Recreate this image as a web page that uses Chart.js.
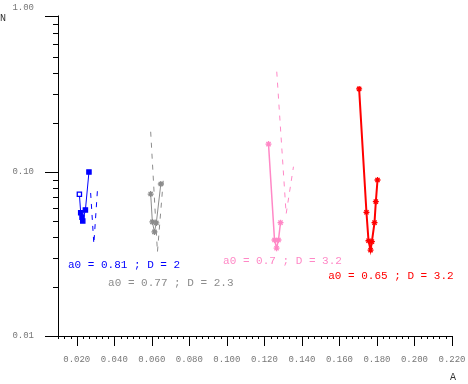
<!DOCTYPE html>
<html>
<head>
<meta charset="utf-8">
<script src="https://cdn.jsdelivr.net/npm/chart.js@4"></script>
<style>
  html, body { margin: 0; padding: 0; background: #fff; }
  #wrap { width: 468px; height: 384px; }
</style>
</head>
<body>
<div id="wrap"><canvas id="chart" width="468" height="384"></canvas></div>
<script>
const blueA = [0.0214, 0.0221, 0.0228, 0.0232, 0.0246, 0.0265];
const blueN = [0.0732, 0.0565, 0.0530, 0.0503, 0.0587, 0.100];
const blueModelA = [0.0274, 0.0291, 0.0310];
const blueModelN = [0.0745, 0.0364, 0.0769];

const greyA = [0.0594, 0.0603, 0.0614, 0.0624, 0.0648];
const greyN = [0.0734, 0.0496, 0.0431, 0.0489, 0.0845];
const greyModelA = [0.0594, 0.0630, 0.0662];
const greyModelN = [0.176, 0.0325, 0.0919];

const pinkA = [0.1222, 0.1254, 0.1265, 0.1275, 0.1286];
const pinkN = [0.148, 0.0385, 0.0343, 0.0385, 0.0491];
const pinkModelA = [0.1266, 0.1316, 0.1355];
const pinkModelN = [0.409, 0.0555, 0.1077];

const redA = [0.1705, 0.1744, 0.1755, 0.1766, 0.1773, 0.1787, 0.1794, 0.1803];
const redN = [0.321, 0.0568, 0.0381, 0.0334, 0.0376, 0.0491, 0.0659, 0.0894];

const seriesLabels = ['a0 = 0.81 ; D = 2', 'a0 = 0.77 ; D = 2.3', 'a0 = 0.7 ; D = 3.2', 'a0 = 0.65 ; D = 3.2'];

const xTicks = [0.02, 0.04, 0.06, 0.08, 0.10, 0.12, 0.14, 0.16, 0.18, 0.20, 0.22];
const yTicks = [0.01, 0.1, 1];

const BLUE = '#0000ff';
const GREY = '#8c8c8c';
const PINK = '#ff88c6';
const RED = '#ff0000';

const pts = (xs, ys) => xs.map((x, i) => ({ x: x, y: ys[i] }));

// where the series captions sit, in data units
const captionPos = [
  { x: 0.0153, y: 0.0271, color: BLUE },
  { x: 0.0367, y: 0.0211, color: GREY },
  { x: 0.0980, y: 0.0287, color: PINK },
  { x: 0.1540, y: 0.0232, color: RED },
];

const solid = (data, color, style, width, bg) => ({
  data: data,
  showLine: true,
  borderColor: color,
  borderWidth: width,
  pointStyle: style,
  pointRadius: 3,
  pointBorderWidth: 1.3,
  pointBorderColor: color,
  pointBackgroundColor: bg || color,
});

const dashed = (data, color) => ({
  data: data,
  showLine: true,
  borderColor: color,
  borderWidth: 1,
  borderDash: [5, 6],
  pointRadius: 0,
});

const axesPlugin = {
  id: 'plainAxes',
  afterDraw(chart) {
    const ctx = chart.ctx;
    const xs = chart.scales.x;
    const ys = chart.scales.y;
    const left = xs.getPixelForValue(0.01);
    const right = xs.getPixelForValue(0.22);
    const bottom = ys.getPixelForValue(0.01);
    const top = ys.getPixelForValue(0.9);

    ctx.save();
    ctx.strokeStyle = '#000';
    ctx.lineWidth = 1;
    ctx.beginPath();
    ctx.moveTo(left + 0.5, top);
    ctx.lineTo(left + 0.5, bottom + 0.5);
    ctx.lineTo(right, bottom + 0.5);
    ctx.stroke();

    // x ticks: minor every 1/300, major every 0.02
    ctx.beginPath();
    for (let k = 0; k <= 63; k++) {
      const v = 0.01 + k / 300;
      const px = Math.round(xs.getPixelForValue(v)) + 0.5;
      const len = (k % 6 === 3) ? 10 : 3;
      ctx.moveTo(px, bottom);
      ctx.lineTo(px, bottom + len);
    }
    // y ticks
    for (let e = -2; e <= 0; e++) {
      for (let m = 1; m <= 9; m++) {
        const v = m * Math.pow(10, e);
        if (v < 0.01 || v > 0.9) continue;
        const py = Math.round(ys.getPixelForValue(v)) + 0.5;
        const len = (m === 1 || v === 0.9) ? 13 : 5;
        ctx.moveTo(left, py);
        ctx.lineTo(left - len, py);
      }
    }
    ctx.stroke();

    ctx.fillStyle = '#777';
    ctx.font = '9px "Liberation Mono", monospace';
    ctx.textAlign = 'center';
    ctx.textBaseline = 'middle';
    xTicks.forEach(v => {
      ctx.fillText(v.toFixed(3), xs.getPixelForValue(v), bottom + 24);
    });
    ctx.textAlign = 'right';
    yTicks.forEach(v => {
      ctx.fillText(v.toFixed(2), left - 24, ys.getPixelForValue(v));
    });

    ctx.fillStyle = '#333';
    ctx.font = '10px "Liberation Mono", monospace';
    ctx.textAlign = 'left';
    ctx.fillText('N', 0, 18);
    ctx.fillText('A', right - 2, bottom + 41);

    ctx.font = '11px "Liberation Mono", monospace';
    captionPos.forEach((c, i) => {
      ctx.fillStyle = c.color;
      ctx.fillText(seriesLabels[i], xs.getPixelForValue(c.x), ys.getPixelForValue(c.y));
    });
    ctx.restore();
  },
};

new Chart(document.getElementById('chart').getContext('2d'), {
  type: 'scatter',
  data: {
    datasets: [
      dashed(pts(blueModelA, blueModelN), BLUE),
      dashed(pts(greyModelA, greyModelN), GREY),
      dashed(pts(pinkModelA, pinkModelN), PINK),
      solid(pts(blueA, blueN), BLUE, 'rect', 1, [ '#fff', BLUE, BLUE, BLUE, BLUE, BLUE ]),
      solid(pts(greyA, greyN), GREY, 'star', 1),
      solid(pts(pinkA, pinkN), PINK, 'star', 1.5),
      solid(pts(redA, redN), RED, 'star', 2),
    ],
  },
  options: {
    responsive: false,
    devicePixelRatio: 1,
    animation: false,
    layout: {
      padding: { left: 58, right: 16, top: 8, bottom: 48 },
    },
    plugins: {
      legend: { display: false },
      tooltip: { enabled: false },
    },
    scales: {
      x: { type: 'linear', min: 0.01, max: 0.22, display: false },
      y: { type: 'logarithmic', min: 0.01, max: 1, display: false },
    },
  },
  plugins: [axesPlugin],
});
</script>
</body>
</html>
